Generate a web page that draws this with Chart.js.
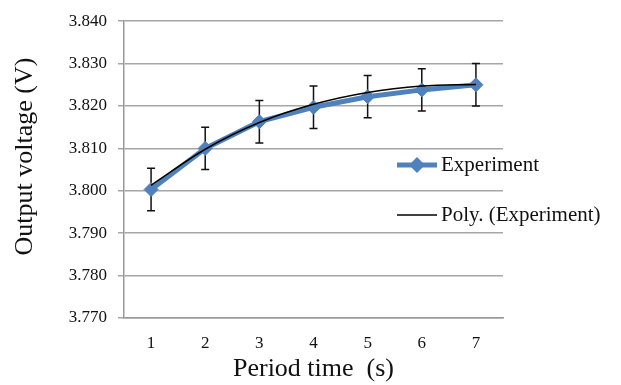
<!DOCTYPE html>
<html lang="en">

<head>
    <meta charset="UTF-8">
    <title>Output voltage</title>
    <script src="https://cdn.jsdelivr.net/npm/chart.js"></script>
    <style>
        html, body { margin: 0; padding: 0; background: #fff; }
        #box { width: 621px; height: 385px; position: relative; }
    </style>
</head>

<body>
    <div id="box">
        <canvas id="grafico"></canvas>
    </div>
</body>

</html>

<script>
    // valores
    var periodos = ['1', '2', '3', '4', '5', '6', '7']
    var tensao = [3.8003, 3.8100, 3.8163, 3.8197, 3.8222, 3.8238, 3.8250]
    var erro = [0.005, 0.005, 0.005, 0.005, 0.005, 0.005, 0.005]
    var tendencia = [3.8013, 3.8098, 3.8161, 3.8204, 3.8232, 3.8247, 3.8251]
    var ticksY = [3.770, 3.780, 3.790, 3.800, 3.810, 3.820, 3.830, 3.840]

    var fonte = 'Liberation Serif'
    var azul = '#4F81BD'

    // barras de erro desenhadas com as escalas do próprio chart
    var barrasErro = {
        id: 'barrasErro',
        beforeDatasetsDraw: function (chart) {
            var ctx = chart.ctx
            var sx = chart.scales.x
            var sy = chart.scales.y
            ctx.save()
            ctx.strokeStyle = '#111'
            ctx.lineWidth = 1.5
            for (var i = 0; i < tensao.length; i++) {
                var x = sx.getPixelForValue(i)
                var yTop = sy.getPixelForValue(tensao[i] + erro[i])
                var yBot = sy.getPixelForValue(tensao[i] - erro[i])
                ctx.beginPath()
                ctx.moveTo(x, yTop); ctx.lineTo(x, yBot)
                ctx.moveTo(x - 4, yTop); ctx.lineTo(x + 4, yTop)
                ctx.moveTo(x - 4, yBot); ctx.lineTo(x + 4, yBot)
                ctx.stroke()
            }
            ctx.restore()
        }
    }

    // legenda à direita, sobre a área do gráfico
    var legenda = {
        id: 'legenda',
        afterDraw: function (chart) {
            var ctx = chart.ctx
            var ds = chart.data.datasets
            var linhas = [165, 215]
            ctx.save()
            ctx.font = '21px "' + fonte + '"'
            ctx.textBaseline = 'middle'
            ctx.fillStyle = '#111'
            ds.forEach(function (d, i) {
                var y = linhas[i]
                ctx.strokeStyle = d.borderColor
                ctx.lineWidth = d.borderWidth
                ctx.beginPath()
                ctx.moveTo(397, y); ctx.lineTo(437, y)
                ctx.stroke()
                if (d.pointRadius > 0) {
                    ctx.fillStyle = d.pointBackgroundColor
                    ctx.beginPath()
                    ctx.moveTo(417, y - 8); ctx.lineTo(425, y)
                    ctx.lineTo(417, y + 8); ctx.lineTo(409, y)
                    ctx.closePath()
                    ctx.fill()
                }
                ctx.fillStyle = '#111'
                ctx.fillText(d.label, 441, y)
            })
            ctx.restore()
        }
    }

    var config = {
        type: 'line',
        data: {
            labels: periodos,
            datasets: [{
                label: 'Experiment',
                data: tensao,
                borderColor: azul,
                backgroundColor: azul,
                borderWidth: 5,
                pointStyle: 'rectRot',
                pointRadius: 7,
                pointBackgroundColor: azul,
                pointBorderColor: azul,
                pointBorderWidth: 1,
                tension: 0,
                order: 1
            }, {
                label: 'Poly. (Experiment)',
                data: tendencia,
                borderColor: '#000',
                borderWidth: 1.5,
                pointRadius: 0,
                cubicInterpolationMode: 'monotone',
                order: 0
            }]
        },
        options: {
            responsive: false,
            animation: false,
            events: [],
            layout: { padding: { top: 18, right: 118, left: 0, bottom: 0 } },
            plugins: {
                legend: { display: false },
                tooltip: { enabled: false }
            },
            scales: {
                x: {
                    type: 'category',
                    offset: true,
                    grid: { display: false, drawTicks: false },
                    border: { display: true, color: '#999', width: 1.5 },
                    ticks: { color: '#111', font: { family: fonte, size: 17 }, padding: 15, maxRotation: 0 },
                    title: {
                        display: true, text: 'Period time  (s)', color: '#111',
                        font: { family: fonte, size: 26 }, padding: { top: 2, bottom: 0 }
                    },
                    afterFit: function (s) { s.height = 67 }
                },
                y: {
                    min: 3.77,
                    max: 3.84,
                    afterBuildTicks: function (s) {
                        s.ticks = ticksY.map(function (v) { return { value: v } })
                    },
                    grid: { color: '#a6a6a6', lineWidth: 1.5, tickLength: 6 },
                    border: { display: true, color: '#999', width: 1.5 },
                    ticks: {
                        color: '#111', font: { family: fonte, size: 17 }, padding: 11,
                        callback: function (v) { return Number(v).toFixed(3) }
                    },
                    title: {
                        display: true, text: '    Output voltage (V)', color: '#111',
                        font: { family: fonte, size: 26 }, padding: { top: 10, bottom: 0 }
                    },
                    afterFit: function (s) { s.width = 124 }
                }
            }
        },
        plugins: [barrasErro, legenda]
    }

    var canvas = document.getElementById('grafico')
    canvas.width = 621
    canvas.height = 385
    var grafico = new Chart(canvas, config)
</script>
